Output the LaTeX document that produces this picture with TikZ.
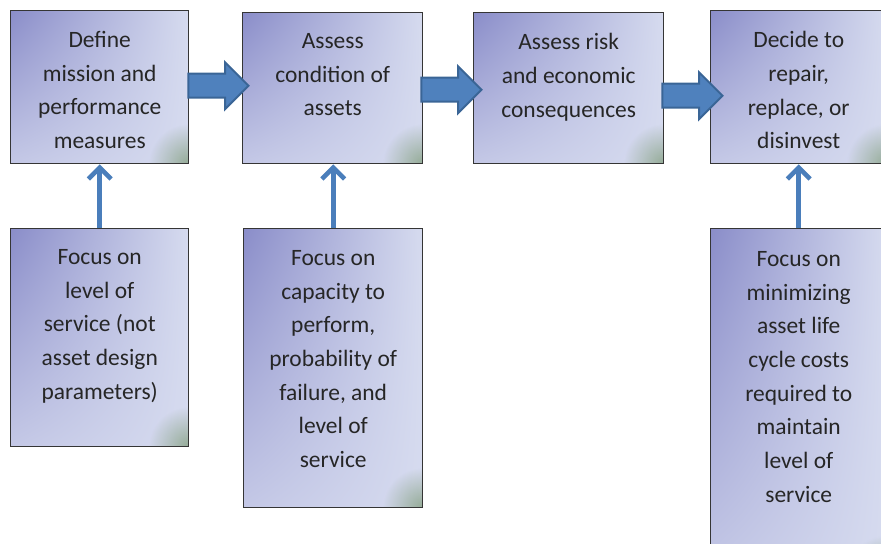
\documentclass[tikz,border=0pt]{standalone}
\usepackage{fontspec}
\setmainfont{Carlito}
\usetikzlibrary{arrows.meta}
\usetikzlibrary{positioning, calc}
\usetikzlibrary{shapes.arrows, shadings, fadings}

\definecolor{panelA}{HTML}{8A8DC9}
\definecolor{panelB}{HTML}{D6DBEF}
\definecolor{panelC}{HTML}{C4C8E6}
\definecolor{panelG}{HTML}{7E9B78}
\definecolor{panelLine}{HTML}{353535}
\definecolor{textGray}{HTML}{262626}
\definecolor{arrowBlue}{HTML}{4F81BD}
\definecolor{arrowEdge}{HTML}{3A6596}
\definecolor{linkBlue}{HTML}{4A7EBB}

\tikzfading[name=glow, inner color=transparent!0, outer color=transparent!100]

\tikzset{
  panel/.style={draw=panelLine, line width=1.1pt, inner sep=0pt, anchor=north west,
    path picture={
      \shade[upper left=panelA, upper right=panelB, lower left=panelC, lower right=panelB]
        (path picture bounding box.north west) rectangle (path picture bounding box.south east);
      \fill[panelG, opacity=0.75, path fading=glow]
        (path picture bounding box.south east) circle (30pt);
    }},
  paneltext/.style={text=textGray, align=center, inner sep=0pt,
    font=\fontsize{17.6}{25.3}\selectfont},
  blockarrow/.style={single arrow, fill=arrowBlue, draw=arrowEdge, line width=1.5pt,
    inner xsep=0pt, inner ysep=8.25pt, minimum height=45pt,
    single arrow head extend=8.6pt, single arrow head indent=0pt, anchor=tail},
  uplink/.style={draw=linkBlue, line width=3.4pt, -{Straight Barb[length=8.5pt, width=17pt]}},
}

\begin{document}
\begin{tikzpicture}[x=0.75pt, y=-0.75pt]
      \clip (0,0) rectangle (881,543);

      % process steps
      \node[panel, minimum width=133.5pt, minimum height=114.75pt] (define) at (10,10) {};
      \node[panel, minimum width=135pt, minimum height=113.25pt] (assess) at (242,12) {};
      \node[panel, minimum width=142.5pt, minimum height=113.25pt] (risk) at (473,12) {};
      \node[panel, minimum width=132pt, minimum height=114.75pt] (decide) at (710,10) {};

      % focus boxes
      \node[panel, minimum width=133.5pt, minimum height=163.5pt] (focus1) at (10,228) {};
      \node[panel, minimum width=134.25pt, minimum height=209.25pt] (focus2) at (243,228) {};
      \node[panel, minimum width=132pt, minimum height=260pt] (focus3) at (710,228) {};

      \node[paneltext, below=15.75pt of define.north] (tDefine) {Define\\mission and\\performance\\measures};
      \node[paneltext, below=15.75pt of assess.north] (tAssess) {Assess\\condition of\\assets};
      \node[paneltext, below=15.75pt of risk.north] (tRisk) {Assess risk\\and economic\\consequences};
      \node[paneltext, below=15.75pt of decide.north] (tDecide) {Decide to\\repair,\\replace, or\\disinvest};
      \node[paneltext, below=15.75pt of focus1.north] (tFocus1) {Focus on\\level of\\service (not\\asset design\\parameters)};
      \node[paneltext, below=16.5pt of focus2.north] (tFocus2) {Focus on\\capacity to\\perform,\\probability of\\failure, and\\level of\\service};
      \node[paneltext, below=17.25pt of focus3.north] (tFocus3) {Focus on\\minimizing\\asset life\\cycle costs\\required to\\maintain\\level of\\service};

      % block arrows between steps
      \node[blockarrow] (a1) at ($(define.east)+(-2,-1.5)$) {};
      \node[blockarrow] (a2) at ($(assess.east)+(-3,1.5)$) {};
      \node[blockarrow] (a3) at ($(risk.east)+(-3,7.5)$) {};

      \draw[uplink] (focus1.north) -- (define.south);
      \draw[uplink] (focus2.north) -- (focus2.north |- assess.south);
      \draw[uplink] (focus3.north) -- (decide.south);
    \end{tikzpicture}
\end{document}
